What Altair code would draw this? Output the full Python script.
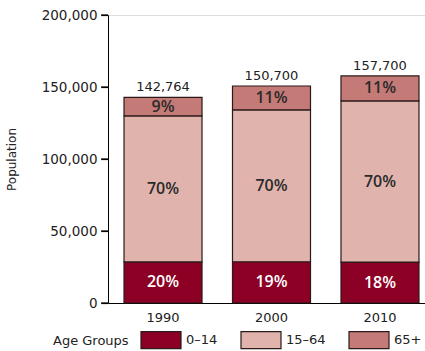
import altair as alt
import pandas as pd

years = ["1990", "2000", "2010"]
groups = ["0–14", "15–64", "65+"]
totals = [142764, 150700, 157700]
pop_0_14 = [28553, 28633, 28386]
pop_15_64 = [101362, 105490, 111967]
pop_65 = [12849, 16577, 17347]
pct_0_14 = ["20%", "19%", "18%"]
pct_15_64 = ["70%", "70%", "70%"]
pct_65 = ["9%", "11%", "11%"]
colors = ["#8c0026", "#e0b4ad", "#c47a76"]
y_ticks = [0, 50000, 100000, 150000, 200000]

rows = []
for i, yr in enumerate(years):
    for g, vals, labs, o in [(groups[0], pop_0_14, pct_0_14, 0),
                             (groups[1], pop_15_64, pct_15_64, 1),
                             (groups[2], pop_65, pct_65, 2)]:
        rows.append({"year": yr, "group": g, "value": vals[i], "label": labs[i], "ord": o})
df = pd.DataFrame(rows)
tot = pd.DataFrame({"year": years, "total": totals})
tick_df = pd.DataFrame({"tick": y_ticks})

FONT = "DejaVu Sans"
xaxis = alt.Axis(labelAngle=0, labelFontSize=13, labelPadding=8, ticks=False,
                 domainColor="#000", domainWidth=1, labelColor="#222")
yaxis = alt.Axis(values=y_ticks, labelExpr="format(datum.value, ',')",
                 labelFontSize=13.5, labelColor="#222",
                 ticks=True, tickSize=7, tickColor="#000", tickWidth=1.2,
                 labelPadding=4, domainColor="#000", domainWidth=1,
                 titleFontSize=12, titleFontWeight="normal", titleColor="#222",
                 titlePadding=23, grid=False)
xscale = alt.Scale(paddingInner=0.281, paddingOuter=0.1015, align=0.727)
yscale = alt.Scale(domain=[0, 200000])

bars = alt.Chart(df).mark_bar(stroke="#2a1a1a", strokeWidth=1.2).encode(
    x=alt.X("year:N", title=None, scale=xscale, axis=xaxis),
    y=alt.Y("value:Q", stack="zero", scale=yscale, title="Population", axis=yaxis),
    color=alt.Color("group:N", scale=alt.Scale(domain=groups, range=colors),
                    legend=alt.Legend(title="Age Groups", orient="none", direction="horizontal",
                                      legendX=-55, legendY=304, titleOrient="left",
                                      titleBaseline="top",
                                      titleFontSize=13, titleFontWeight="normal", titleColor="#222",
                                      titlePadding=11, labelFontSize=13, labelColor="#222",
                                      symbolType="M-1,-0.425H1V0.425H-1Z", symbolSize=1600,
                                      symbolStrokeColor="#2a1a1a", symbolStrokeWidth=1.2,
                                      symbolOpacity=1, labelOffset=4, columnPadding=20)),
    order=alt.Order("ord:Q"),
)

tick_rules = alt.Chart(tick_df).mark_rule(color="#000", strokeWidth=1.2, clip=False).encode(
    x=alt.value(-7),
    x2=alt.value(0),
    y=alt.Y("tick:Q", scale=yscale, title="Population", axis=yaxis),
)

labels = alt.Chart(df).transform_stack(
    stack="value", groupby=["year"], as_=["y0", "y1"], sort=[alt.SortField("ord")]
).transform_calculate(mid="(datum.y0 + datum.y1) / 2").mark_text(
    font="Open Sans", fontSize=16, fontWeight=600, baseline="middle"
).encode(
    x=alt.X("year:N", title=None, scale=xscale, axis=xaxis),
    y=alt.Y("mid:Q", scale=yscale, title="Population", axis=yaxis),
    text="label:N",
    color=alt.condition(alt.datum.ord == 0, alt.value("#ffffff"), alt.value("#2a2a2a")),
)

total_text = alt.Chart(tot).mark_text(font=FONT, fontSize=13, baseline="bottom", dy=-3,
                                      color="#222").encode(
    x=alt.X("year:N", title=None, scale=xscale, axis=xaxis),
    y=alt.Y("total:Q", scale=yscale, title="Population", axis=yaxis),
    text=alt.Text("total:Q", format=","),
)

chart = alt.layer(bars, tick_rules, labels, total_text).properties(
    width=317, height=288,
    autosize=alt.AutoSizeParams(type="none"),
    padding={"left": 108, "top": 15, "right": 0, "bottom": 48},
).configure_view(stroke=None).configure(font=FONT)

chart.save("out.html", embed_options={"renderer": "svg", "actions": False})
